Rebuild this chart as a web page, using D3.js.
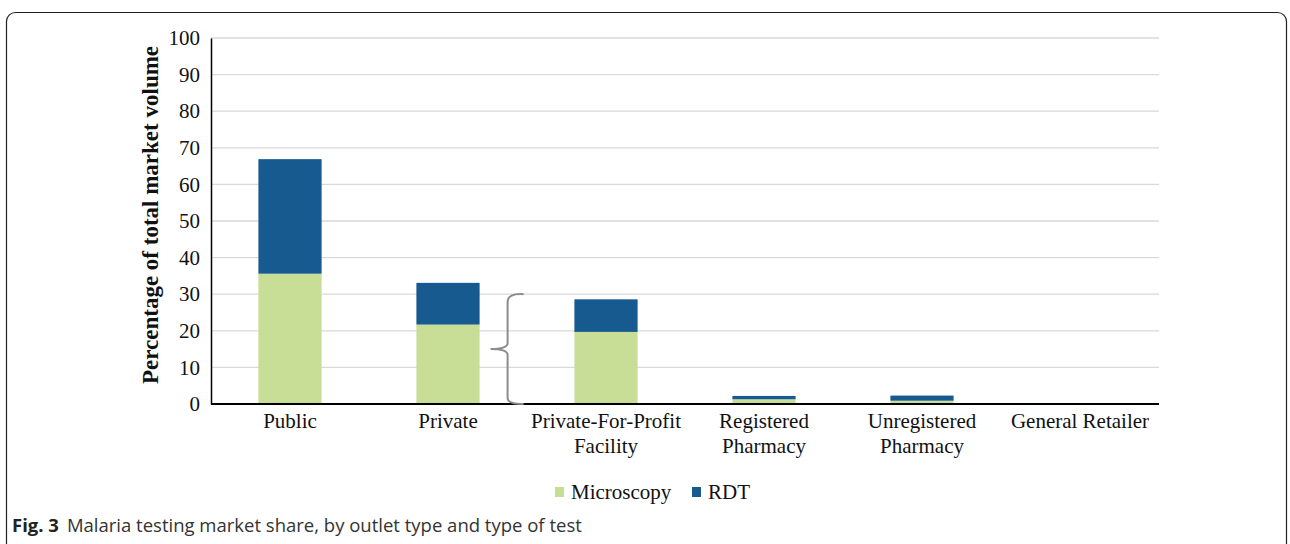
<!DOCTYPE html>
<html>
<head>
<meta charset="utf-8">
<script src="https://cdn.jsdelivr.net/npm/d3@7"></script>
<style>
  body { margin: 0; background: #fff; }
  svg { display: block; }
</style>
</head>
<body>
<svg id="chart" width="1290" height="544"></svg>
<script>
const categories = [
  ['Public'],
  ['Private'],
  ['Private-For-Profit', 'Facility'],
  ['Registered', 'Pharmacy'],
  ['Unregistered', 'Pharmacy'],
  ['General Retailer']
];
const microscopy = [35.6, 21.7, 19.7, 1.3, 0.9, 0];
const rdt = [31.3, 11.4, 8.9, 0.9, 1.4, 0];
const seriesNames = ['Microscopy', 'RDT'];
const yTicks = [0, 10, 20, 30, 40, 50, 60, 70, 80, 90, 100];

const COLORS = { Microscopy: '#c8de96', RDT: '#175a8f' };
const SERIF = '"Liberation Serif", "Times New Roman", serif';

const svg = d3.select('#chart');

// figure frame
svg.append('rect')
  .attr('x', 6.5).attr('y', 12.5)
  .attr('width', 1280).attr('height', 540)
  .attr('rx', 9)
  .attr('fill', 'none')
  .attr('stroke', '#222')
  .attr('stroke-width', 1.2);

const margin = { left: 211, right: 131, top: 38, bottom: 140 };
const width = 1290 - margin.left - margin.right;
const height = 544 - margin.top - margin.bottom;

const g = svg.append('g').attr('transform', `translate(${margin.left},${margin.top})`);

const x = d3.scaleBand()
  .domain(categories.map((d, i) => i))
  .range([0, width])
  .paddingInner(0.6)
  .paddingOuter(0.3);

const y = d3.scaleLinear().domain([0, 100]).range([height, 0]);

// gridlines
g.selectAll('line.grid')
  .data(yTicks.slice(1))
  .enter()
  .append('line')
  .attr('class', 'grid')
  .attr('x1', 0).attr('x2', width)
  .attr('y1', d => y(d)).attr('y2', d => y(d))
  .attr('stroke', '#d9d9d9')
  .attr('stroke-width', 1.3);

// stacked bars
const rows = categories.map((c, i) => ({ idx: i, Microscopy: microscopy[i], RDT: rdt[i] }));
const stacked = d3.stack().keys(seriesNames)(rows);

g.selectAll('g.series')
  .data(stacked)
  .enter()
  .append('g')
  .attr('fill', d => COLORS[d.key])
  .selectAll('rect')
  .data(d => d)
  .enter()
  .append('rect')
  .attr('x', d => x(d.data.idx))
  .attr('width', x.bandwidth())
  .attr('y', d => y(d[1]))
  .attr('height', d => y(d[0]) - y(d[1]));

// y axis
const yAxis = g.append('g')
  .call(d3.axisLeft(y).tickValues(yTicks).tickSize(0).tickPadding(11));
yAxis.select('.domain').attr('stroke', '#000').attr('stroke-width', 1.5);
yAxis.selectAll('text')
  .attr('font-family', SERIF)
  .attr('font-size', 21)
  .attr('fill', '#111');

// x axis line
g.append('line')
  .attr('x1', 0).attr('x2', width)
  .attr('y1', height).attr('y2', height)
  .attr('stroke', '#000')
  .attr('stroke-width', 2);

// category labels
const labels = g.selectAll('text.cat')
  .data(categories)
  .enter()
  .append('text')
  .attr('class', 'cat')
  .attr('x', (d, i) => x(i) + x.bandwidth() / 2)
  .attr('y', height + 24)
  .attr('text-anchor', 'middle')
  .attr('font-family', SERIF)
  .attr('font-size', 21)
  .attr('fill', '#111');
labels.selectAll('tspan')
  .data(d => d)
  .enter()
  .append('tspan')
  .attr('x', function () { return d3.select(this.parentNode).attr('x'); })
  .attr('dy', (d, i) => i === 0 ? 0 : 25)
  .text(d => d);

// curly brace grouping the private sector (0-30)
const bx = x(1) + x.bandwidth() + 28;
const yTop = y(30), yMid = y(15), yBot = y(0);
const brace = d3.path();
brace.moveTo(bx + 16, yTop);
brace.quadraticCurveTo(bx, yTop - 1, bx, yTop + 8);
brace.lineTo(bx, yMid - 6);
brace.quadraticCurveTo(bx, yMid, bx - 17, yMid);
brace.moveTo(bx - 17, yMid);
brace.quadraticCurveTo(bx, yMid, bx, yMid + 6);
brace.lineTo(bx, yBot - 6);
brace.quadraticCurveTo(bx, yBot, bx + 16, yBot);
g.append('path')
  .attr('d', brace.toString())
  .attr('fill', 'none')
  .attr('stroke', '#8c8c8c')
  .attr('stroke-width', 2);

// y axis title
svg.append('text')
  .attr('transform', `translate(158,${margin.top + height / 2 - 6}) rotate(-90)`)
  .attr('text-anchor', 'middle')
  .attr('font-family', SERIF)
  .attr('font-weight', 'bold')
  .attr('font-size', 23)
  .attr('fill', '#111')
  .text('Percentage of total market volume');

// legend
const legendPos = [555, 692];
const legend = svg.selectAll('g.legend')
  .data(seriesNames)
  .enter()
  .append('g')
  .attr('transform', (d, i) => `translate(${legendPos[i]},487)`);
legend.append('rect')
  .attr('width', 9).attr('height', 10)
  .attr('fill', d => COLORS[d]);
legend.append('text')
  .attr('x', 16).attr('y', 12)
  .attr('font-family', SERIF)
  .attr('font-size', 21)
  .attr('fill', '#111')
  .text(d => d);

// caption
const caption = svg.append('text')
  .attr('x', 12).attr('y', 532)
  .attr('font-family', '"Open Sans", "Noto Sans", sans-serif')
  .attr('font-size', 18.5)
  .attr('fill', '#222');
caption.append('tspan').attr('font-weight', 'bold').text('Fig. 3');
caption.append('tspan').attr('dx', 8).attr('fill', '#333').text('Malaria testing market share, by outlet type and type of test');
</script>
</body>
</html>
